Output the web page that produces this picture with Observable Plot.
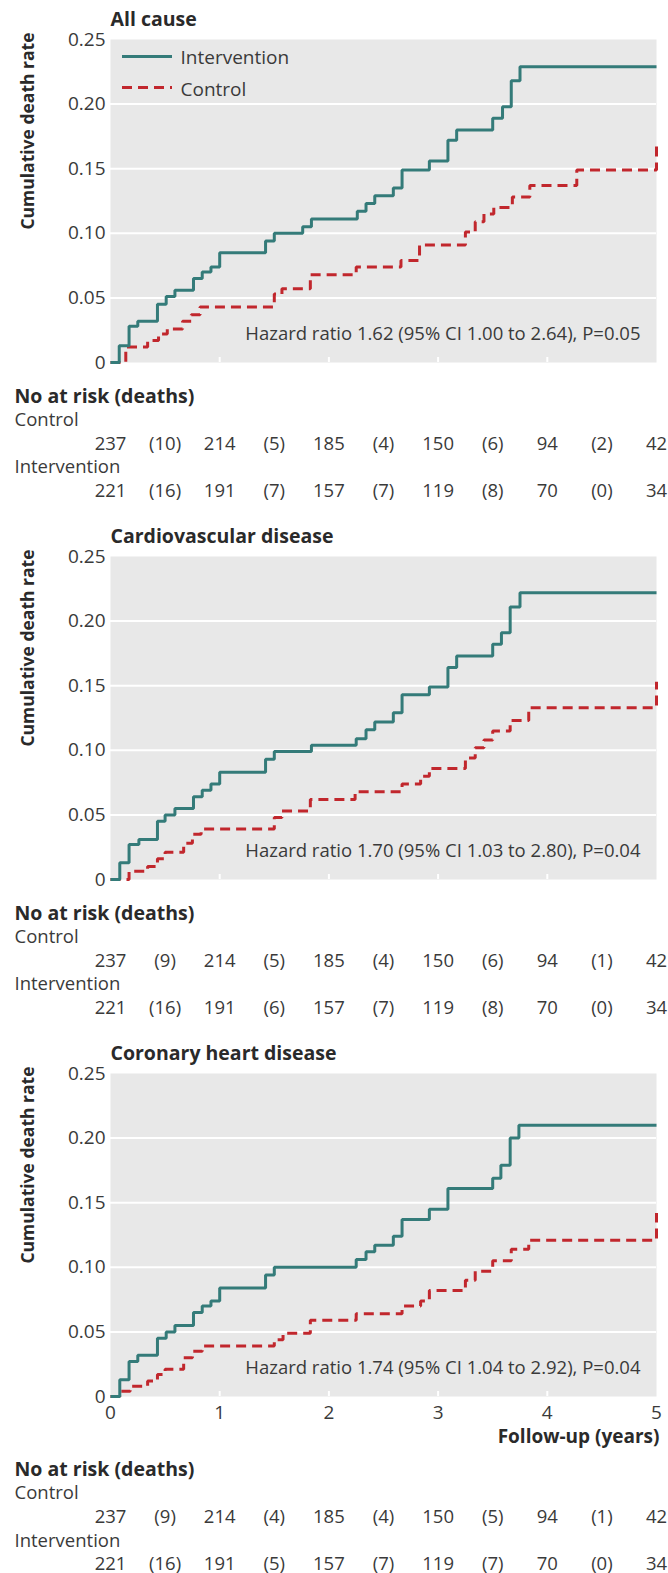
<!DOCTYPE html>
<html>
<head>
<meta charset="utf-8">
<script src="https://cdn.jsdelivr.net/npm/d3@7"></script>
<script src="https://cdn.jsdelivr.net/npm/@observablehq/plot@0.6"></script>
<style>
html, body { margin: 0; padding: 0; background: #fff; overflow: hidden; }
#chart { width: 668px; }
#chart svg { display: block; max-width: none; }
</style>
</head>
<body>
<div id="chart"></div>
<script>
// ---------- data ----------
const panelTitles = ["All cause", "Cardiovascular disease", "Coronary heart disease"];
const hazardTexts = [
  "Hazard ratio 1.62 (95% CI 1.00 to 2.64), P=0.05",
  "Hazard ratio 1.70 (95% CI 1.03 to 2.80), P=0.04",
  "Hazard ratio 1.74 (95% CI 1.04 to 2.92), P=0.04"
];
const groupNames = ["Intervention", "Control"];
const yLabel = "Cumulative death rate";
const xLabel = "Follow-up (years)";
const tableTitle = "No at risk (deaths)";
const yTicks = [0, 0.05, 0.10, 0.15, 0.20, 0.25];
const xTicks = [0, 1, 2, 3, 4, 5];
const deathIntervals = [0.5, 1.5, 2.5, 3.5, 4.5];

// All cause
const intTimes1  = [0, 0.08, 0.17, 0.25, 0.43, 0.51, 0.59, 0.76, 0.84, 0.92, 1.00, 1.42, 1.50, 1.76, 1.84, 2.26, 2.34, 2.42, 2.59, 2.67, 2.92, 3.09, 3.17, 3.50, 3.59, 3.67, 3.75, 5];
const intValues1 = [0, 0.013, 0.028, 0.032, 0.045, 0.051, 0.056, 0.065, 0.070, 0.074, 0.085, 0.094, 0.100, 0.105, 0.111, 0.117, 0.123, 0.129, 0.135, 0.149, 0.156, 0.172, 0.180, 0.189, 0.198, 0.218, 0.229, 0.229];
const ctlTimes1  = [0, 0.14, 0.34, 0.44, 0.52, 0.66, 0.74, 0.82, 1.50, 1.57, 1.83, 2.25, 2.66, 2.83, 3.25, 3.34, 3.42, 3.51, 3.68, 3.84, 4.27, 5];
const ctlValues1 = [0, 0.012, 0.017, 0.022, 0.026, 0.032, 0.037, 0.043, 0.053, 0.057, 0.068, 0.074, 0.079, 0.091, 0.101, 0.109, 0.115, 0.120, 0.128, 0.137, 0.149, 0.171];
// Cardiovascular disease
const intTimes2  = [0, 0.085, 0.17, 0.26, 0.43, 0.50, 0.59, 0.76, 0.84, 0.92, 1.00, 1.42, 1.50, 1.84, 2.25, 2.34, 2.42, 2.59, 2.67, 2.92, 3.09, 3.17, 3.50, 3.58, 3.66, 3.75, 5];
const intValues2 = [0, 0.013, 0.027, 0.031, 0.045, 0.050, 0.055, 0.064, 0.069, 0.074, 0.083, 0.093, 0.099, 0.104, 0.109, 0.116, 0.122, 0.129, 0.143, 0.149, 0.164, 0.173, 0.182, 0.191, 0.211, 0.222, 0.222];
const ctlTimes2  = [0, 0.17, 0.34, 0.43, 0.50, 0.67, 0.75, 0.83, 1.50, 1.57, 1.83, 2.24, 2.67, 2.84, 2.92, 3.25, 3.34, 3.42, 3.50, 3.66, 3.83, 5];
const ctlValues2 = [0, 0.0064, 0.010, 0.016, 0.021, 0.028, 0.035, 0.039, 0.048, 0.053, 0.062, 0.068, 0.074, 0.080, 0.086, 0.094, 0.102, 0.108, 0.115, 0.123, 0.133, 0.153];
// Coronary heart disease
const intTimes3  = [0, 0.085, 0.17, 0.25, 0.43, 0.51, 0.59, 0.76, 0.84, 0.92, 1.00, 1.42, 1.50, 2.25, 2.34, 2.42, 2.59, 2.67, 2.92, 3.09, 3.50, 3.575, 3.66, 3.74, 5];
const intValues3 = [0, 0.013, 0.027, 0.032, 0.045, 0.050, 0.055, 0.065, 0.070, 0.074, 0.084, 0.094, 0.100, 0.106, 0.112, 0.117, 0.124, 0.137, 0.145, 0.161, 0.169, 0.179, 0.200, 0.210, 0.210];
const ctlTimes3  = [0, 0.085, 0.18, 0.34, 0.43, 0.50, 0.67, 0.75, 0.84, 1.50, 1.58, 1.83, 2.25, 2.67, 2.84, 2.92, 3.25, 3.34, 3.50, 3.67, 3.83, 5];
const ctlValues3 = [0, 0.004, 0.008, 0.012, 0.017, 0.021, 0.030, 0.035, 0.039, 0.044, 0.049, 0.059, 0.064, 0.070, 0.074, 0.082, 0.090, 0.097, 0.105, 0.114, 0.121, 0.142];

// Numbers at risk (deaths)
const ctlAtRisk1 = [237, 214, 185, 150, 94, 42];
const ctlDeaths1 = [10, 5, 4, 6, 2];
const intAtRisk1 = [221, 191, 157, 119, 70, 34];
const intDeaths1 = [16, 7, 7, 8, 0];
const ctlAtRisk2 = [237, 214, 185, 150, 94, 42];
const ctlDeaths2 = [9, 5, 4, 6, 1];
const intAtRisk2 = [221, 191, 157, 119, 70, 34];
const intDeaths2 = [16, 6, 7, 8, 0];
const ctlAtRisk3 = [237, 214, 185, 150, 94, 42];
const ctlDeaths3 = [9, 4, 4, 5, 1];
const intAtRisk3 = [221, 191, 157, 119, 70, 34];
const intDeaths3 = [16, 5, 7, 7, 0];

// ---------- styling ----------
const TEAL = "#347b79";
const RED = "#c1272d";
const PANEL = "#e8e8e8";
const TEXT = "#3a3a3a";
const BOLD = "#2a2a2a";
const DASH = "10,6";
const FONT = "'Open Sans', 'Noto Sans', sans-serif";

const panels = [
  {int: [intTimes1, intValues1], ctl: [ctlTimes1, ctlValues1], ctlRisk: ctlAtRisk1, ctlD: ctlDeaths1, intRisk: intAtRisk1, intD: intDeaths1},
  {int: [intTimes2, intValues2], ctl: [ctlTimes2, ctlValues2], ctlRisk: ctlAtRisk2, ctlD: ctlDeaths2, intRisk: intAtRisk2, intD: intDeaths2},
  {int: [intTimes3, intValues3], ctl: [ctlTimes3, ctlValues3], ctlRisk: ctlAtRisk3, ctlD: ctlDeaths3, intRisk: intAtRisk3, intD: intDeaths3}
];

const toSteps = ([ts, vs]) => ts.map((t, i) => ({t, v: vs[i]}));
const fmtY = d => d === 0 ? "0" : d.toFixed(2);
const yMax = yTicks[yTicks.length - 1];
const xMax = xTicks[xTicks.length - 1];

function makePanel(k) {
  const p = panels[k];
  const last = k === panels.length - 1;
  const first = k === 0;
  const shift = last ? 39.5 : 0;
  const height = last ? 539 : 517;
  const marginTop = 39;
  const plotH = 323;
  const marginBottom = height - marginTop - plotH;
  const lbl = {frameAnchor: "bottom-left", dx: -96, textAnchor: "start", lineAnchor: "bottom"};
  const bold = {fontWeight: "bold", fill: BOLD, fontSize: 19.5};
  const row = {frameAnchor: "bottom", lineAnchor: "bottom", fontSize: 18.5};

  const marks = [
    Plot.frame({fill: PANEL, stroke: "none"}),
    Plot.ruleY(yTicks.filter(d => d > 0 && d < yMax), {stroke: "white", strokeWidth: 2}),
    Plot.ruleX(xTicks.filter(d => d > 0 && d < xMax), {stroke: "white", strokeWidth: 2, insetTop: plotH - 5}),
    Plot.axisY(yTicks, {tickSize: 0, tickPadding: 5, tickFormat: fmtY, label: null}),
    Plot.line(toSteps(p.ctl), {x: "t", y: "v", curve: "step-after", stroke: RED, strokeWidth: 3, strokeDasharray: DASH, strokeLinecap: "butt", strokeLinejoin: "miter"}),
    Plot.line(toSteps(p.int), {x: "t", y: "v", curve: "step-after", stroke: TEAL, strokeWidth: 3, strokeLinecap: "butt", strokeLinejoin: "miter"}),
    Plot.text([hazardTexts[k]], {frameAnchor: "bottom-right", textAnchor: "end", lineAnchor: "bottom", dx: -16, dy: -23, fontSize: 18.5}),
    Plot.text([panelTitles[k]], {frameAnchor: "top-left", textAnchor: "start", lineAnchor: "bottom", dy: -14, ...bold}),
    Plot.text([yLabel], {frameAnchor: "top-left", textAnchor: "end", lineAnchor: "bottom", rotate: -90, dx: -77, dy: -7, ...bold, fontSize: 17.5}),
    // table
    Plot.text([tableTitle], {...lbl, dy: 40 + shift, ...bold}),
    Plot.text([groupNames[1]], {...lbl, dy: 63 + shift, fontSize: 18.5}),
    Plot.text(xTicks, {x: d => d, text: (d, i) => String(p.ctlRisk[i]), ...row, dy: 87 + shift}),
    Plot.text(deathIntervals, {x: d => d, text: (d, i) => `(${p.ctlD[i]})`, ...row, dy: 87 + shift}),
    Plot.text([groupNames[0]], {...lbl, dy: 110.5 + shift, fontSize: 18.5}),
    Plot.text(xTicks, {x: d => d, text: (d, i) => String(p.intRisk[i]), ...row, dy: 134 + shift}),
    Plot.text(deathIntervals, {x: d => d, text: (d, i) => `(${p.intD[i]})`, ...row, dy: 134 + shift})
  ];

  if (first) {
    marks.push(
      Plot.ruleY([yMax], {insetLeft: 12, insetRight: 484, dy: 17, stroke: TEAL, strokeWidth: 3}),
      Plot.ruleY([yMax], {insetLeft: 12, insetRight: 484, dy: 48, stroke: RED, strokeWidth: 3, strokeDasharray: DASH}),
      Plot.text([groupNames[0]], {frameAnchor: "top-left", textAnchor: "start", lineAnchor: "bottom", dx: 70, dy: 24}),
      Plot.text([groupNames[1]], {frameAnchor: "top-left", textAnchor: "start", lineAnchor: "bottom", dx: 70, dy: 56})
    );
  }
  if (last) {
    marks.push(
      Plot.axisX(xTicks, {tickSize: 0, tickPadding: 9, label: null}),
      Plot.text([xLabel], {frameAnchor: "bottom-right", textAnchor: "end", lineAnchor: "bottom", dx: 3, dy: 46, ...bold, fontSize: 19})
    );
  }

  return Plot.plot({
    width: 668,
    height,
    marginLeft: 110,
    marginRight: 12,
    marginTop,
    marginBottom,
    x: {domain: [0, xMax], axis: null},
    y: {domain: [0, yMax], axis: null},
    style: {fontFamily: FONT, fontSize: "19px", color: TEXT, background: "white", overflow: "visible"},
    marks
  });
}

const chart = document.getElementById("chart");
panels.forEach((_, k) => chart.appendChild(makePanel(k)));
</script>
</body>
</html>
